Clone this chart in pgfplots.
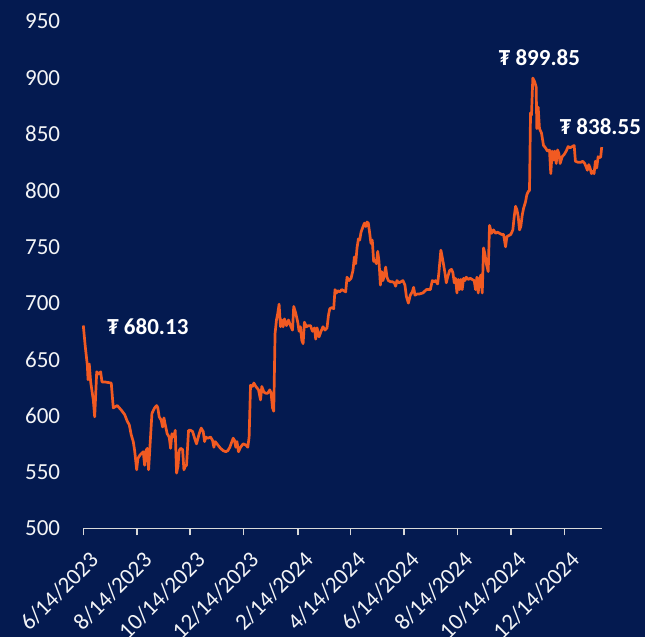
\documentclass[border=0pt]{standalone}
\usepackage{pgfplots}
\pgfplotsset{compat=1.18}
\usepackage{fontspec}
\setmainfont{Carlito}
\definecolor{bg}{HTML}{041A50}
\definecolor{ln}{HTML}{F15A22}
\definecolor{ax}{HTML}{D9D9D9}
\pgfplotstableread{
d v
0 680.13
2.3 661
4.6 645
5.4 632
6.8 646
8.4 630
11.4 614
13 599
15.3 639
17.5 637
19.8 639
21.3 630
24.4 630
31.9 629
34.2 607
36.5 608
38.8 609
41 607
43.3 605
47.2 601
50.2 595
52.4 592
54.7 583
57 577
58.6 569
60.9 552
62.3 562
64.6 565
68.4 568
70 556
71.5 569
73 571
74.5 552
78.3 602
81.4 607
83.7 609
85 607
86.6 599
88.9 596
90.5 590
92 598
93.5 592
95.7 584
98 581
99.6 571
101.1 584
103.4 581
104.9 587
106.4 549
108 555
109.4 569
111 571
113.3 570
114.8 552
116.3 555
117.8 556
120.1 587
122.4 587
124.7 586
127 580
129.2 575
132.2 584
134.5 589
136.8 586
138.4 577
139.8 581
142 580
145.2 581
147.5 578
149 572
150.4 577
153.5 574
156.6 571
159.6 569
162.6 568
164.9 569
167.2 572
171 580
172.6 578
174 572
175.3 577
177.1 568
179.4 572
182.4 575
185.4 574
187.7 572
189.2 581
190.8 627
193.1 626
194.6 629
196.8 626
199.9 623
202.2 614
203.7 626
206 621
208.2 620
210.5 620
212.8 623
214.3 620
215.9 607
217.3 604
218.8 673
220.4 685
221.9 691
223.4 699
225 679
226.5 685
228 679
229.5 686
231.8 680
234.1 685
236.4 680
238.7 676
240.1 697
242.4 691
244.7 683
246.2 675
247.7 679
249.3 667
250.8 664
252.3 683
254.6 679
256.9 680
259.2 680
261.5 675
263.8 678
265.2 668
266.7 678
269 670
271.3 675
273.5 679
275.8 676
278.1 678
279.7 689
281.2 695
283.5 696
285.7 695
287.2 712
288.8 709
290.3 711
292.6 710
294.9 712
297.1 711
299.4 710
300.9 723
303.2 720
305.5 722
307.7 729
309.3 741
310.8 735
312.3 749
313.9 757
315.4 756
316.9 763
319.2 768
320.8 771
322.3 768
323.7 772
325.2 771
326.8 762
328.2 753
329.7 756
331.3 737
332.8 738
334.4 735
335.9 746
337.4 737
339 716
340.4 728
341.9 720
343.5 725
345 732
346.5 723
348.1 720
350.4 719
352.7 719
354.9 718
356.4 715
357.9 720
360.2 718
362.4 719
364.7 720
367 716
368.6 706
370.9 700
373.1 707
375.4 710
376.9 714
378.5 707
380.7 708
382.9 708
387.5 709
391.4 712
396 712
398.2 720
400.5 719
402 720
404.3 717
405.7 727
407.3 741
408 747
409.5 741
411.1 734
412.6 727
414.2 718
415.7 723
418 729
420.2 730
421.7 727
423.3 718
424.8 722
426.3 709
427.9 721
429.3 712
430.8 721
432.3 712
433.9 722
435.4 720
436.9 723
439.2 721
441.5 722
443.7 721
446 720
447.6 712
449.1 723
450.6 709
452.1 721
453.6 725
455.2 709
456.7 749
458.2 744
459.8 735
462 728
463.5 769
465.8 762
468.1 765
470.4 762
472.6 763
474.9 762
477.2 761
479.5 761
481.8 750
483.3 759
485.5 760
487.8 761
490.1 765
491.7 777
493.2 786
494.7 783
496.2 777
497.7 765
499.2 768
500.8 778
502.3 784
504.6 790
506 796
507.6 799
509.1 800
510.3 869
511.4 867
512.9 899.85
514.8 897
516.7 892
517.5 855
519 874
520.5 855
522.8 851
525.1 840
527.3 838
529.6 835
531.9 836
533.4 815
535 835
536.5 827
538 835
539.6 824
541.1 836
542.6 833
544.1 824
546.4 830
548.7 832
551 835
553.2 839
555.5 838
557.8 839
560.1 840
561.5 826
564.6 825
567.6 825
569.8 826
572.1 824
573.7 821
575.2 818
576.7 823
578.2 820
579.8 815
581.3 817
582.8 815
584.3 826
585.8 820
587.4 830
588.9 829
590.4 830
591.5 838.55
}\price
\begin{document}
\begin{tikzpicture}
\fill[bg] (-83.3pt,-108.7pt) rectangle (561.7pt,528.3pt);
\useasboundingbox (-83.3pt,-108.7pt) rectangle (561.7pt,528.3pt);
\begin{axis}[
  at={(0pt,0pt)}, anchor=south west,
  scale only axis, width=518.4pt, height=506.7pt,
  xmin=0, xmax=591.5, ymin=500, ymax=950,
  clip=false,
  axis lines*=left,
  y axis line style={draw=none},
  x axis line style={ax, line width=1.5pt},
  xtick align=outside,
  major tick length=7pt,
  xtick style={ax, line width=1.5pt},
  ytick style={draw=none},
  ytick={500,550,...,950},
  xtick={0,61,122,183,245,305,366,427,488,549},
  xticklabels={6/14/2023,8/14/2023,10/14/2023,12/14/2023,2/14/2024,4/14/2024,6/14/2024,8/14/2024,10/14/2024,12/14/2024},
  ticklabel style={font=\fontsize{23}{23}\selectfont, text=white!95!bg},
  /pgf/number format/assume math mode=true,
  xticklabel style={rotate=45, anchor=north east, inner sep=2pt, xshift=-5pt, yshift=-12pt},
  yticklabel style={anchor=east, inner sep=0pt, xshift=-23pt},
]
\addplot[ln, line width=2.7pt, line join=round, no marks] table[x=d, y=v] {\price};
\node[text=white, font=\bfseries\fontsize{23}{23}\selectfont] at (axis cs:73.7,679) {₮ 680.13};
\node[text=white, font=\bfseries\fontsize{23}{23}\selectfont] at (axis cs:520.5,917.7) {₮ 899.85};
\node[text=white, font=\bfseries\fontsize{23}{23}\selectfont] at (axis cs:590,856.4) {₮ 838.55};
\end{axis}
\end{tikzpicture}
\end{document}
